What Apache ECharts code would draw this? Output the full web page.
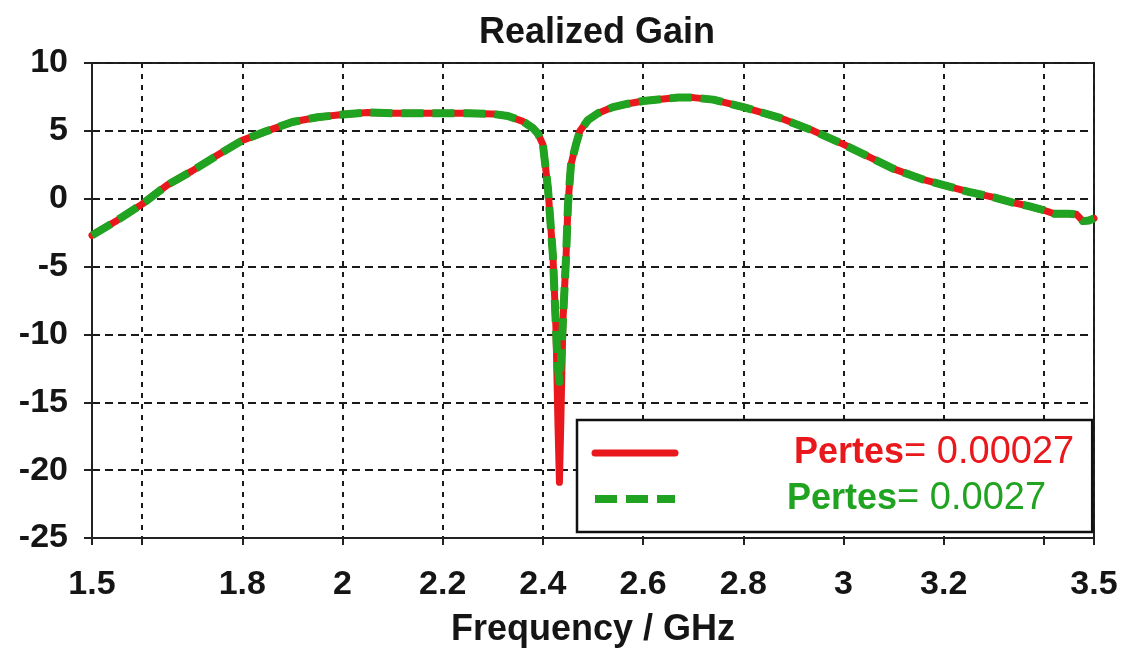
<!DOCTYPE html>
<html>
<head>
<meta charset="utf-8">
<title>Realized Gain</title>
<script src="https://cdn.jsdelivr.net/npm/echarts@6/dist/echarts.min.js"></script>
<style>
  html, body { margin: 0; padding: 0; background: #fff; }
  #chart { width: 1128px; height: 648px; }
</style>
</head>
<body>
<div id="chart"></div>
<script>
// frequency points (GHz)
var freq = [1.50, 1.55, 1.60, 1.65, 1.70, 1.75, 1.80, 1.85, 1.90, 1.95,
  2.00, 2.05, 2.10, 2.15, 2.20, 2.25, 2.30, 2.33, 2.36, 2.38,
  2.39, 2.40, 2.41, 2.42, 2.426, 2.430, 2.433, 2.436, 2.440, 2.446,
  2.450, 2.456, 2.466, 2.474, 2.49, 2.51, 2.54, 2.57, 2.60, 2.64,
  2.67, 2.70, 2.74, 2.80, 2.87, 2.94, 3.00, 3.05, 3.10, 3.16,
  3.20, 3.25, 3.30, 3.34, 3.37, 3.40, 3.42, 3.45, 3.465, 3.478,
  3.49, 3.50]

// realized gain, Pertes = 0.00027 (red, solid)
var gainRed = [-2.7, -1.6, -0.4, 1.0, 2.05, 3.2, 4.3, 5.0, 5.65, 6.0,
  6.2, 6.35, 6.3, 6.3, 6.3, 6.3, 6.25, 6.1, 5.7, 5.2,
  4.8, 4.0, 0.8, -4.2, -9.5, -16.5, -20.9, -16.0, -9.0, -4.5,
  -0.5, 2.5, 4.0, 5.0, 5.8, 6.3, 6.75, 7.0, 7.2, 7.35,
  7.45, 7.45, 7.3, 6.75, 6.0, 5.0, 4.0, 3.1, 2.2, 1.4,
  1.0, 0.5, 0.1, -0.3, -0.55, -0.85, -1.1, -1.1, -1.15, -1.65,
  -1.6, -1.45]

// realized gain, Pertes = 0.0027 (green, dashed)
var gainGreen = [-2.7, -1.6, -0.4, 1.0, 2.05, 3.2, 4.3, 5.0, 5.65, 6.0,
  6.2, 6.35, 6.3, 6.3, 6.3, 6.3, 6.25, 6.1, 5.7, 5.2,
  4.8, 4.0, 0.8, -4.2, -9.5, -12.5, -13.5, -12.0, -9.0, -4.5,
  -0.5, 2.5, 4.0, 5.0, 5.8, 6.3, 6.75, 7.0, 7.2, 7.35,
  7.45, 7.45, 7.3, 6.75, 6.0, 5.0, 4.0, 3.1, 2.2, 1.4,
  1.0, 0.5, 0.1, -0.3, -0.55, -0.85, -1.1, -1.1, -1.15, -1.65,
  -1.6, -1.45]

var xTicks = [1.5, 1.6, 1.8, 2.0, 2.2, 2.4, 2.6, 2.8, 3.0, 3.2, 3.4, 3.5]
var xLabels = [1.5, 1.8, 2.0, 2.2, 2.4, 2.6, 2.8, 3.0, 3.2, 3.5]

var redName = 'Pertes= 0.00027'
var greenName = 'Pertes= 0.0027'
var RED = '#e8181c'
var GREEN = '#20a320'
var INK = '#151515'
var FONT = 'Liberation Sans'

function pairs(xs, ys) {
  var out = []
  for (var i = 0; i < xs.length; i++) out.push([xs[i], ys[i]])
  return out
}

var chart = echarts.init(document.getElementById('chart'))
chart.setOption({
  animation: false,
  backgroundColor: '#fff',
  title: {
    text: 'Realized Gain',
    left: 474,
    top: 10,
    textStyle: { fontFamily: FONT, fontWeight: 'bold', fontSize: 36, color: INK }
  },
  grid: {
    left: 92, right: 34, top: 63, bottom: 110,
    outerBoundsMode: 'none',
    show: true, borderColor: '#222', borderWidth: 2
  },
  legend: {
    orient: 'vertical',
    left: 577,
    top: 420,
    selectedMode: false,
    data: [redName, greenName],
    itemWidth: 80,
    itemHeight: 14,
    itemGap: 8,
    padding: [14, 18, 14, 14],
    borderColor: '#111',
    borderWidth: 2.5,
    backgroundColor: '#fff',
    lineStyle: { width: 'inherit' },
    itemStyle: { color: 'rgba(0,0,0,0)', borderWidth: 0 },
    formatter: function (name) {
      var parts = name.split('=')
      var k = name === redName ? 'r' : 'g'
      return '{p' + k + '|' + parts[0] + '}{v' + k + '|=' + parts[1] + '}'
    },
    textStyle: {
      rich: {
        pr: { color: RED, fontFamily: FONT, fontWeight: 'bold', fontSize: 36, lineHeight: 42, padding: [0, 0, 0, 114] },
        vr: { color: RED, fontFamily: FONT, fontSize: 38, lineHeight: 42 },
        pg: { color: GREEN, fontFamily: FONT, fontWeight: 'bold', fontSize: 36, lineHeight: 42, padding: [0, 0, 0, 107] },
        vg: { color: GREEN, fontFamily: FONT, fontSize: 38, lineHeight: 42 }
      }
    }
  },
  xAxis: {
    type: 'value',
    min: 1.5,
    max: 3.5,
    name: 'Frequency / GHz',
    nameLocation: 'middle',
    nameGap: 74,
    nameTextStyle: { fontFamily: FONT, fontWeight: 'bold', fontSize: 36, color: INK },
    axisLine: { show: true, onZero: false, lineStyle: { color: '#222', width: 2 } },
    axisTick: { show: true, length: 7, customValues: xTicks, lineStyle: { color: '#222', width: 2 } },
    axisLabel: {
      customValues: xLabels,
      margin: 30,
      fontFamily: FONT, fontWeight: 'bold', fontSize: 34, color: INK,
      formatter: function (v) { return String(+v.toFixed(1)) }
    },
    splitLine: { show: true, lineStyle: { color: '#1a1a1a', width: 2, type: [5, 6] } }
  },
  yAxis: {
    type: 'value',
    min: -25,
    max: 10,
    interval: 5,
    axisLine: { show: true, onZero: false, lineStyle: { color: '#222', width: 2 } },
    axisTick: { show: true, length: 8, lineStyle: { color: '#222', width: 2 } },
    axisLabel: { margin: 24, fontFamily: FONT, fontWeight: 'bold', fontSize: 34, color: INK },
    splitLine: { show: true, lineStyle: { color: '#1a1a1a', width: 2, type: [8, 5] } }
  },
  series: [
    {
      name: redName,
      type: 'line',
      data: pairs(freq, gainRed),
      symbol: 'none',
      showSymbol: false,
      lineStyle: { color: RED, width: 7, cap: 'round', join: 'round' },
      itemStyle: { color: RED },
      z: 3
    },
    {
      name: greenName,
      type: 'line',
      data: pairs(freq, gainGreen),
      symbol: 'none',
      showSymbol: false,
      lineStyle: { color: GREEN, width: 8, type: [22, 9], join: 'round' },
      itemStyle: { color: GREEN },
      z: 4
    }
  ]
})
</script>
</body>
</html>
